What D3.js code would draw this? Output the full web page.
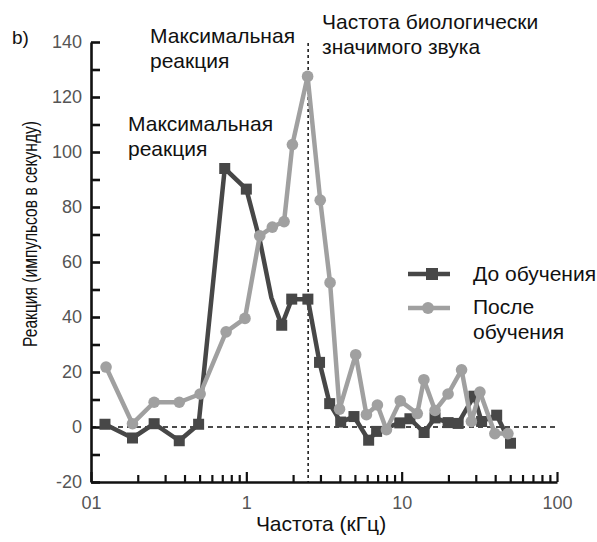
<!DOCTYPE html>
<html>
<head>
<meta charset="utf-8">
<script src="https://cdn.jsdelivr.net/npm/d3@7"></script>
<style>
  body { margin: 0; background: #fff; }
  svg { font-family: "Liberation Sans", Arial, sans-serif; }
</style>
</head>
<body>
<svg id="chart" width="597" height="542"></svg>
<script>
// frequency (kHz) and response (impulses per second)
var freqBefore = [0.123,0.185,0.255,0.37,0.493,0.726,1.0,1.22,1.45,1.69,1.96,2.49,2.96,3.44,4.05,4.93,6.13,6.9,9.72,11.3,13.95,16.4,19.9,23.1,29.2,32.7,40.9,50.2];
var valBefore  = [1,-4,1.2,-5,1,94,86.5,68,47,37,46.5,46.5,23.5,8.5,1.8,3.8,-4.8,-1.6,1.5,3,-2,3.3,1.6,1.3,11.2,2,4.3,-5.9];
var beforeNoMarker = [7, 8]; // bends in the line without a visible square

var freqAfter = [0.125,0.185,0.255,0.37,0.504,0.741,0.98,1.22,1.47,1.75,1.98,2.48,2.99,3.46,3.98,5.06,5.93,6.98,7.98,9.79,12.6,13.9,16.4,19.9,24.3,28.1,31.9,39.8,48.3];
var valAfter  = [21.8,1.2,9,9,12,34.6,39.5,69.5,72.7,74.7,102.7,127.5,82.5,52.5,6.5,26.3,4.5,8,-1,9.5,4.9,17.2,6,12,20.8,2,12.7,-2.4,-2.4];

var seriesNames = ["До обучения", "После обучения"];
var xMajor = [0.1, 1, 10, 100];
var xMajorLabels = ["01", "1", "10", "100"];
var yTicks = d3.range(-20, 141, 10);
var markFreq = 2.5; // biologically significant sound

var svg = d3.select("#chart");
var mLeft = 91, mRight = 557, mTop = 42, mBottom = 482;

var x = d3.scaleLog().domain([0.1, 100]).range([mLeft, mRight]);
var y = d3.scaleLinear().domain([-20, 140]).range([mBottom, mTop]);

var dark = "#474747", light = "#a0a0a0";
var fontBig = 21;

// minor x ticks
var xMinor = [];
[0.1, 1, 10].forEach(function (d) {
    for (var k = 2; k <= 9; k++) xMinor.push(d * k);
});

svg.append("g")
    .attr("transform", "translate(0," + mBottom + ")")
    .call(d3.axisBottom(x).tickValues(xMinor).tickSize(-7).tickFormat(""))
    .call(function (g) { g.select(".domain").remove(); })
    .selectAll("line").attr("stroke", "#111").attr("stroke-width", 2.2);

var xAxis = svg.append("g")
    .attr("transform", "translate(0," + mBottom + ")")
    .call(d3.axisBottom(x).tickValues(xMajor).tickSizeInner(-10).tickSizeOuter(0).tickPadding(14)
        .tickFormat(function (d, i) { return xMajorLabels[i]; }));
xAxis.select(".domain").attr("stroke", "#111").attr("stroke-width", 2.6);
xAxis.selectAll("line").attr("stroke", "#111").attr("stroke-width", 2.2);
xAxis.selectAll("text").attr("font-size", 18).attr("fill", "#555")
    .attr("font-family", "Liberation Sans, Arial, sans-serif");

var yAxis = svg.append("g")
    .attr("transform", "translate(" + mLeft + ",0)")
    .call(d3.axisLeft(y).tickValues(yTicks).tickSizeInner(-9).tickSizeOuter(0).tickPadding(9)
        .tickFormat(function (d) { return d % 20 === 0 ? d : ""; }));
yAxis.select(".domain").attr("stroke", "#111").attr("stroke-width", 2.6);
yAxis.selectAll("line").attr("stroke", "#111").attr("stroke-width", 2.6);
yAxis.selectAll("text").attr("font-size", 18).attr("fill", "#555")
    .attr("font-family", "Liberation Sans, Arial, sans-serif");

// reference lines
svg.append("line")
    .attr("x1", mLeft).attr("x2", mRight)
    .attr("y1", y(0)).attr("y2", y(0))
    .attr("stroke", "#111").attr("stroke-width", 1.3).attr("stroke-dasharray", "5,4");
svg.append("line")
    .attr("x1", x(markFreq)).attr("x2", x(markFreq))
    .attr("y1", 43).attr("y2", mBottom)
    .attr("stroke", "#111").attr("stroke-width", 1.5).attr("stroke-dasharray", "3,3");

var line = d3.line().x(function (d) { return x(d[0]); }).y(function (d) { return y(d[1]); });
var before = d3.zip(freqBefore, valBefore);
var after = d3.zip(freqAfter, valAfter);

svg.append("path").datum(before)
    .attr("d", line).attr("fill", "none").attr("stroke", dark)
    .attr("stroke-width", 4.5).attr("stroke-linejoin", "round");
svg.selectAll(".sq")
    .data(before.filter(function (d, i) { return beforeNoMarker.indexOf(i) == -1; }))
    .enter().append("rect")
    .attr("class", "sq")
    .attr("x", function (d) { return x(d[0]) - 5.5; })
    .attr("y", function (d) { return y(d[1]) - 5.5; })
    .attr("width", 11).attr("height", 11).attr("fill", dark);

svg.append("path").datum(after)
    .attr("d", line).attr("fill", "none").attr("stroke", light)
    .attr("stroke-width", 4.5).attr("stroke-linejoin", "round");
svg.selectAll(".dot").data(after).enter().append("circle")
    .attr("class", "dot")
    .attr("cx", function (d) { return x(d[0]); })
    .attr("cy", function (d) { return y(d[1]); })
    .attr("r", 5.8).attr("fill", light);

// legend
var lg = svg.append("g");
lg.append("line").attr("x1", 408).attr("x2", 450).attr("y1", 274).attr("y2", 274)
    .attr("stroke", dark).attr("stroke-width", 4.5);
lg.append("rect").attr("x", 426).attr("y", 268).attr("width", 12).attr("height", 12).attr("fill", dark);
lg.append("line").attr("x1", 408).attr("x2", 450).attr("y1", 308).attr("y2", 308)
    .attr("stroke", light).attr("stroke-width", 4.5);
lg.append("circle").attr("cx", 428).attr("cy", 308).attr("r", 6).attr("fill", light);
lg.append("text").attr("x", 473).attr("y", 281).attr("font-size", fontBig).attr("fill", "#111").text(seriesNames[0]);
lg.append("text").attr("x", 473).attr("y", 314).attr("font-size", fontBig).attr("fill", "#111").text("После");
lg.append("text").attr("x", 473).attr("y", 339).attr("font-size", fontBig).attr("fill", "#111").text("обучения");

// annotations
function note(x0, y0, lines) {
    lines.forEach(function (t, i) {
        svg.append("text").attr("x", x0).attr("y", y0 + i * 25)
            .attr("font-size", fontBig).attr("fill", "#111").text(t);
    });
}
note(150, 43, ["Максимальная", "реакция"]);
note(128, 131, ["Максимальная", "реакция"]);
note(322, 29, ["Частота биологически", "значимого звука"]);
svg.append("text").attr("x", 12).attr("y", 44).attr("font-size", 19).attr("fill", "#111").text("b)");

// axis titles
svg.append("text")
    .attr("transform", "translate(37,234) rotate(-90)")
    .attr("text-anchor", "middle").attr("font-size", 21).attr("fill", "#111")
    .attr("textLength", 226).attr("lengthAdjust", "spacingAndGlyphs")
    .text("Реакция (импульсов в секунду)");
svg.append("text")
    .attr("x", 321).attr("y", 531)
    .attr("text-anchor", "middle").attr("font-size", fontBig).attr("fill", "#111")
    .text("Частота (кГц)");
</script>
</body>
</html>
